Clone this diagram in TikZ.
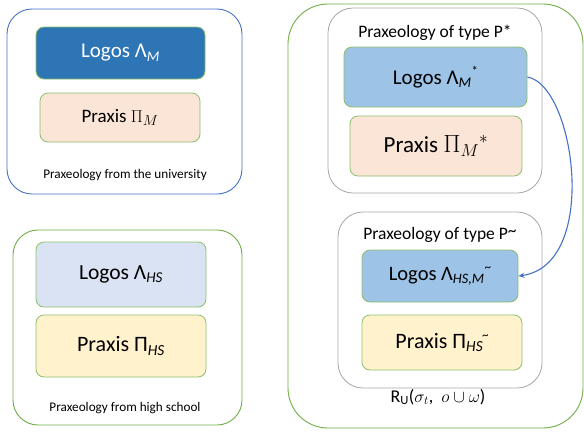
\documentclass[tikz,border=0pt]{standalone}
\usepackage{fontspec}
\setmainfont{Carlito}
\usetikzlibrary{arrows.meta}
\definecolor{uniblue}{HTML}{4472C4}
\definecolor{dkblue}{HTML}{2E75B6}
\definecolor{ltblue}{HTML}{9DC3E6}
\definecolor{paleblue}{HTML}{DAE3F3}
\definecolor{peach}{HTML}{FBE5D6}
\definecolor{cream}{HTML}{FFF2CC}
\definecolor{grn}{HTML}{70AD47}
\definecolor{ltgrn}{HTML}{8CC06A}
\definecolor{gry}{HTML}{A6A6A6}
\tikzset{
  outerbox/.style={draw, line width=0.9pt, rounded corners=25pt, inner sep=0pt},
  innerbox/.style={draw=ltgrn, line width=0.8pt, rounded corners=8pt, inner sep=0pt, align=center},
  lbl/.style={inner sep=0pt, font=\fontsize{13.2}{15}\selectfont},
  ttl/.style={inner sep=0pt, font=\fontsize{17.5}{20}\selectfont},
}
\newcommand{\subit}[1]{\textsubscript{\textit{#1}}}
\newcommand{\supsm}[1]{\raisebox{0.9ex}{\fontsize{13}{14}\selectfont #1}}
\begin{document}
\begin{tikzpicture}[x=1pt,y=-1pt]
\useasboundingbox (0,0) rectangle (584,432);
% University
\node[outerbox, draw=uniblue, minimum width=235pt, minimum height=185pt] (uni) at (124.5,101.5) {};
\node[innerbox, fill=dkblue, text=white, minimum width=169pt, minimum height=52pt, font=\fontsize{21}{23}\selectfont] (logM) at (120.5,53) {Logos Λ\subit{M}};
\node[innerbox, fill=peach, minimum width=160pt, minimum height=49pt, font=\fontsize{19}{21}\selectfont] (prM) at (120,117.5) {Praxis $\Pi_{M}$};
\node[lbl] (uniL) at (125,175) {Praxeology from the university};
% High school
\node[outerbox, draw=grn, minimum width=229pt, minimum height=195pt] (hs) at (127.5,327.5) {};
\node[innerbox, fill=paleblue, minimum width=170pt, minimum height=65pt, font=\fontsize{21.5}{23}\selectfont] (logHS) at (121,274.5) {Logos Λ\subit{HS}};
\node[innerbox, fill=cream, minimum width=170pt, minimum height=62pt, font=\fontsize{22}{24}\selectfont] (prHS) at (121,346) {Praxis Π\subit{HS}};
\node[lbl] (hsL) at (125,408) {Praxeology from high school};
% Right
\node[outerbox, draw=grn, rounded corners=40pt, minimum width=295pt, minimum height=424pt] (ru) at (435.5,216) {};
\node[outerbox, draw=gry, line width=0.8pt, minimum width=214pt, minimum height=185pt] (pstar) at (435,100.5) {};
\node[ttl] (pstarT) at (435,33) {Praxeology of type P*};
\node[innerbox, fill=ltblue, minimum width=183pt, minimum height=60pt, font=\fontsize{21}{23}\selectfont] (logS) at (435.5,77) {Logos Λ\subit{M}\supsm{*}};
\node[innerbox, fill=peach, minimum width=172pt, minimum height=60pt, font=\fontsize{23}{25}\selectfont] (prS) at (436,146) {Praxis $\Pi_{M}{}^{*}$};
\node[outerbox, draw=gry, line width=0.8pt, minimum width=204pt, minimum height=176pt] (ptil) at (440,300) {};
\node[ttl] (ptilT) at (440,235) {Praxeology of type P\raisebox{0.35ex}{\textasciitilde}};
\node[innerbox, fill=ltblue, minimum width=156pt, minimum height=52pt, font=\fontsize{20.5}{22}\selectfont] (logT) at (440,276) {Logos Λ\subit{HS,M}\supsm{\textasciitilde}};
\node[innerbox, fill=cream, minimum width=160pt, minimum height=55pt, font=\fontsize{22}{24}\selectfont] (prT) at (442,342.5) {Praxis Π\subit{HS}\kern-0.05em\supsm{\textasciitilde}};
\node[inner sep=0pt, font=\fontsize{18}{20}\selectfont] (ruL) at (438,397) {R\textsubscript{U}($\sigma_{t}$, \ $o\cup\omega$)};
% arrow
\draw[uniblue, line width=1.1pt, -{Stealth[length=6pt,width=5pt]}] (logS.east) .. controls (575,85) and (600,265) .. (logT.east);
\end{tikzpicture}
\end{document}
